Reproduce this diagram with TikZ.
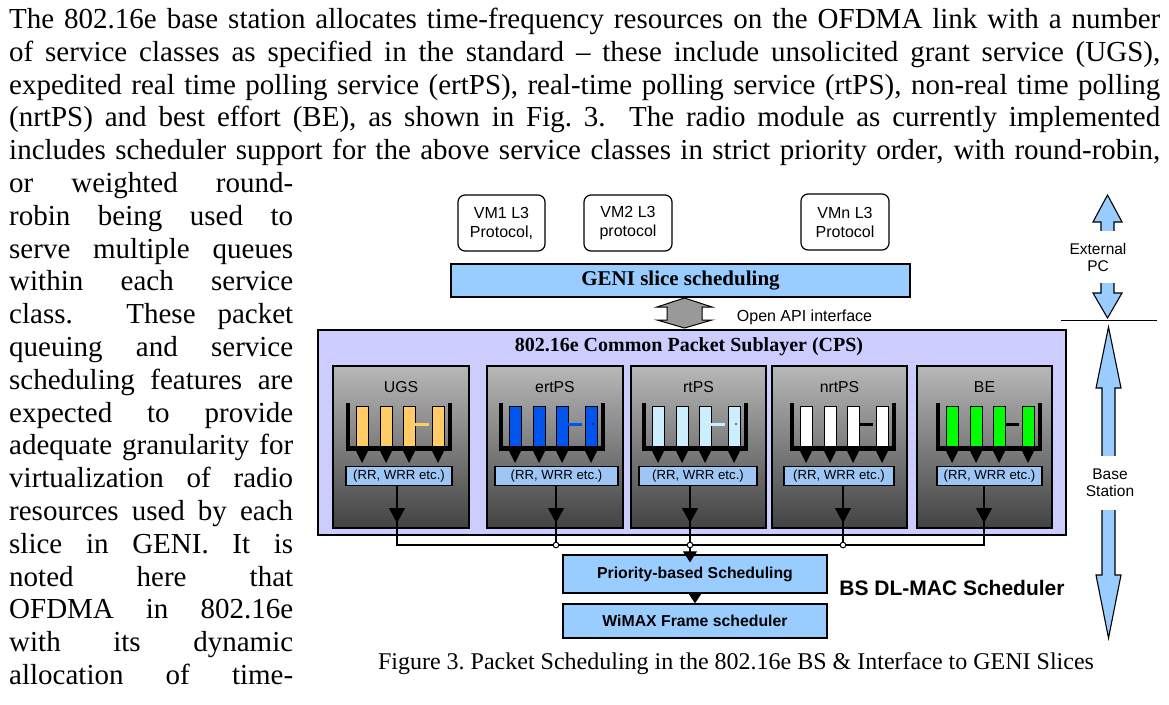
\documentclass[tikz,border=0pt]{standalone}
\usepackage{fontspec}
\setmainfont{Liberation Serif}
\setsansfont{Liberation Sans}
\usepackage{tikz}
\usetikzlibrary{calc}
\usetikzlibrary{arrows.meta}

\definecolor{barblue}{HTML}{99CCFF}
\definecolor{rrblue}{HTML}{9EC6F4}
\definecolor{cpsviolet}{HTML}{CCCCFF}
\definecolor{arrowgray}{HTML}{999999}
\definecolor{ugsyellow}{HTML}{FFCC66}
\definecolor{ertblue}{HTML}{0055EE}
\definecolor{rtblue}{HTML}{CCEEFF}
\definecolor{begreen}{HTML}{00FF00}

\tikzset{
  vmbox/.style={draw, line width=1.2pt, rounded corners=7pt, fill=white, align=center, inner sep=0pt,
    minimum height=56pt, font=\sffamily\fontsize{16}{19}\selectfont},
  bluebar/.style={draw, line width=1.4pt, fill=barblue, inner sep=0pt},
  classbox/.style={draw, line width=1.6pt, top color=black!28, bottom color=black!74, inner sep=0pt},
  classlabel/.style={inner sep=0pt, font=\sffamily\fontsize{15.8}{15.8}\selectfont},
  rrbox/.style={draw, line width=1.4pt, fill=rrblue, inner sep=0pt, minimum height=19pt,
    font=\sffamily\fontsize{13.2}{13.2}\selectfont},
  flowarrow/.style={line width=1.2pt, -{Triangle[width=16pt,length=15pt]}},
  schedbox/.style={draw, line width=1.4pt, fill=barblue, minimum width=264pt, inner sep=0pt,
    font=\sffamily\bfseries\fontsize{15.8}{15.8}\selectfont},
  sidearrow/.style={draw, line width=1.1pt, fill=barblue, line join=miter},
  sidelabel/.style={fill=white, align=center, inner sep=0pt, font=\sffamily\fontsize{15.5}{17}\selectfont},
}

\begin{document}
\begin{tikzpicture}[x=1pt, y=-1pt]
\useasboundingbox (0,0) rectangle (1169,704);

% running text of the page
\node[anchor=base west, inner sep=0pt] (intro) at (9,28.5) {\parbox[t]{1151pt}{\fontsize{29}{32.8}\selectfont
 \tolerance=10000 \hbadness=10000 \hyphenpenalty=10000 \exhyphenpenalty=10000 \parfillskip=0pt
 The 802.16e base station allocates time-frequency resources on the OFDMA link with a number\linebreak
 of service classes as specified in the standard \textendash{} these include unsolicited grant service (UGS),\linebreak
 expedited real time polling service (ertPS), real-time polling service (rtPS), non-real time polling\linebreak
 (nrtPS) and best effort (BE), as shown in Fig.\ 3.  The radio module as currently implemented\linebreak
 includes scheduler support for the above service classes in strict priority order, with round-robin,}};
\node[anchor=base west, inner sep=0pt] (wrap) at (9,192.5) {\parbox[t]{284pt}{\fontsize{29}{32.8}\selectfont
 \tolerance=10000 \hbadness=10000 \hyphenpenalty=10000 \exhyphenpenalty=10000 \parfillskip=0pt
 or weighted round-\linebreak
 robin being used to\linebreak
 serve multiple queues\linebreak
 within each service\linebreak
 class.  These packet\linebreak
 queuing and service\linebreak
 scheduling features are\linebreak
 expected to provide\linebreak
 adequate granularity for\linebreak
 virtualization of radio\linebreak
 resources used by each\linebreak
 slice in GENI.  It is\linebreak
 noted here that\linebreak
 OFDMA in 802.16e\linebreak
 with its dynamic\linebreak
 allocation of time-}};

% slices on top
\node[vmbox, minimum width=87pt] (vm1) at (501.5,223) {VM1 L3\\Protocol,};
\node[vmbox, minimum width=88pt] (vm2) at (628,223) {VM2 L3\\protocol};
\node[vmbox, minimum width=88pt] (vmn) at (845,222) {VMn L3\\Protocol};
\node[bluebar, minimum width=459pt, minimum height=33pt, font=\bfseries\fontsize{21}{21}\selectfont] (geni) at (680.5,280.5) {GENI slice scheduling};

\draw[fill=arrowgray, line width=1pt] (684.5,298) -- (712,307) -- (702,307) -- (702,320) -- (712,320) -- (684.5,328)
  -- (657,320) -- (667,320) -- (667,307) -- (657,307) -- cycle;
\node[inner sep=0pt, font=\sffamily\fontsize{16}{16}\selectfont] (api) at (804.5,317) {Open API interface};

% common packet sublayer
\node[draw, line width=1.4pt, fill=cpsviolet, minimum width=748pt, minimum height=205pt, inner sep=0pt] (cps) at (692,432.5) {};
\node[inner sep=0pt, font=\bfseries\fontsize{20}{20}\selectfont] (cps-title) at (689,347) {802.16e Common Packet Sublayer (CPS)};

\foreach \nm/\lab/\bc/\bw/\fl/\rc/\rw/\ax/\barc/\dashc/\speck in {
  ugs/UGS/401/136/346/399/106/397/ugsyellow/ugsyellow/0,
  ertps/ertPS/555/136/499/556.5/123/556/ertblue/ertblue/0.8,
  rtps/rtPS/698.5/135/642/698/118/690/rtblue/rtblue/0.8,
  nrtps/nrtPS/839.5/135/790/839/110/843/white/black/0,
  be/BE/984.5/135/936/989.5/105/984/begreen/black/0} {
 \node[classbox, minimum width=\bw pt, minimum height=162pt] (\nm) at (\bc,447) {};
 \node[classlabel] (\nm-lab) at (\bc,387) {\lab};
 \foreach \dx in {10.5,34.5,57.5,86.5}
  \draw[fill=\barc, line width=1pt] (\fl+\dx,406) rectangle ++(11.5,40);
 \draw[line width=3pt, \dashc] (\fl+69,424) -- (\fl+83,424);
 \fill (\fl+94,424) circle (\speck pt);
 \draw[line width=4.5pt] (\fl+2,403) -- (\fl+2,448.5) -- (\fl+104,448.5) -- (\fl+104,403);
 \foreach \dx in {16,40,63,92}
  \fill (\fl+\dx-6.5,450) -- (\fl+\dx+6.5,450) -- (\fl+\dx,463) -- cycle;
 \node[rrbox, minimum width=\rw pt] (rr-\nm) at (\rc,476) {(RR, WRR etc.)};
 \coordinate (j-\nm) at (\ax,545);
 \draw[line width=1.2pt] (j-\nm |- rr-\nm.south) -- (j-\nm);
 \draw[flowarrow] (j-\nm |- rr-\nm.south) -- (\ax,523);
}
\draw[line width=1.2pt, line cap=rect] (j-ugs) -- (j-be);

% DL-MAC scheduler
\node[schedbox, minimum height=38pt] (prio) at (695,574) {Priority-based Scheduling};
\node[schedbox, minimum height=34pt] (wimax) at (695,621) {WiMAX Frame scheduler};
\draw[line width=1.2pt, -{Triangle[width=14pt,length=11pt]}] (j-rtps) -- ($(j-rtps |- prio.north)+(0,8)$);
\draw[line width=1pt, -{Triangle[width=13pt,length=10pt]}] (prio.south) -- (wimax.north);
\foreach \nm in {ertps,rtps,nrtps}
 \draw[fill=white, line width=1pt] (j-\nm) circle (2.8pt);
\node[inner sep=0pt, font=\sffamily\bfseries\fontsize{21}{21}\selectfont] (dlmac) at (952,588) {BS DL-MAC Scheduler};

% external PC / base station
\coordinate (split-l) at (1061,320);
\coordinate (split-r) at (1157,320);
\draw[line width=1pt] (split-l) -- (split-r);
\draw[sidearrow] (1107.5,195) -- (1122,222) -- (1114,222) -- (1114,293) -- (1122,293) -- (1107.5,318)
  -- (1093,293) -- (1101,293) -- (1101,222) -- (1093,222) -- cycle;
\node[sidelabel, minimum height=52pt] (extpc) at (1098,257) {External\\PC};
\draw[sidearrow] (1108.5,327) -- (1121,388) -- (1115,388) -- (1115,575) -- (1121,575) -- (1108.5,638)
  -- (1096,575) -- (1102,575) -- (1102,388) -- (1096,388) -- cycle;
\node[sidelabel, minimum height=54pt] (bslab) at (1110,483) {Base\\Station};

\node[inner sep=0pt, font=\fontsize{24}{24}\selectfont] (caption) at (736,664) {Figure 3.\ Packet Scheduling in the 802.16e BS \& Interface to GENI Slices};
\end{tikzpicture}
\end{document}
